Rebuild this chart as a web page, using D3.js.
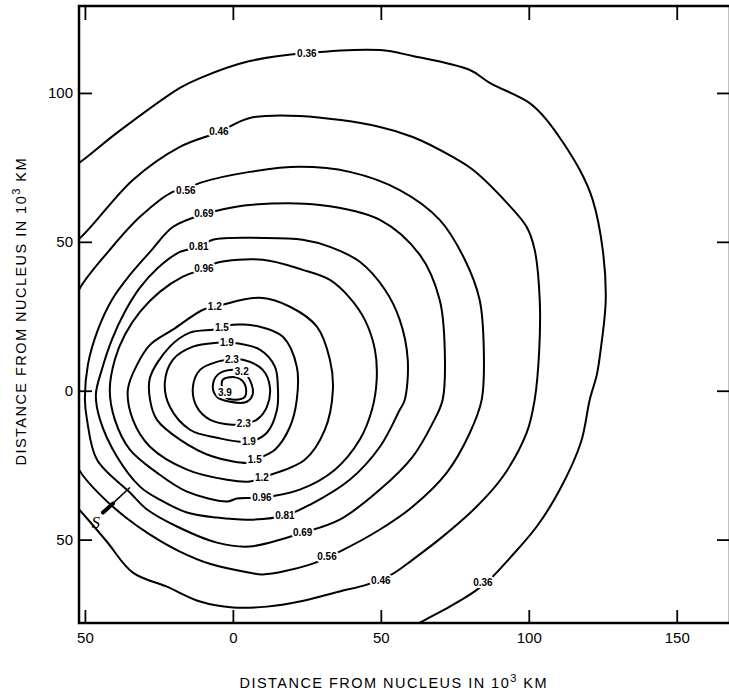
<!DOCTYPE html>
<html>
<head>
<meta charset="utf-8">
<script src="https://cdn.jsdelivr.net/npm/d3@7"></script>
<style>
  body { margin: 0; background: #fff; }
  svg { display: block; }
</style>
</head>
<body>
<div id="chart"></div>
<script>
// contour levels (labels as printed)
const levels = ["0.36", "0.46", "0.56", "0.69", "0.81", "0.96", "1.2", "1.5", "1.9", "2.3", "3.2", "3.9"];

// contour traces, in 10^3 km from nucleus  [x, y]
const c036 = [[-58,73],[-52,76.5],[-39.2,86.6],[-17.9,101.7],[-11.1,105],[5.7,110.7],[25,113.4],[49.7,114.4],[60.8,112.4],[80.1,107.7],[86.8,103.4],[100.3,96.6],[106.1,90.9],[117.2,74.2],[121.6,64.1],[125,47.3],[126,30.5],[124.3,13.8],[123,5.4],[120.6,-3],[117.6,-17.4],[110.5,-33.2],[102.7,-45.6],[93.6,-56.2],[86.8,-63.4],[81.1,-67.8],[73.3,-72.5],[63.2,-77.9],[56,-82]];
const c046 = [[-57,48],[-52,51],[-33.8,70.8],[-17.9,81.9],[-4.7,86.9],[5.7,91.6],[22.6,92.3],[49.7,88.6],[60.8,85.2],[74.3,78.5],[81.1,74.2],[92.6,63.1],[99.3,55],[102,47.3],[103.7,30.5],[103.5,13],[102,-3],[99.3,-14.1],[91.2,-28.9],[82.4,-38.9],[70.9,-49],[60.8,-56.7],[53.7,-61.7],[45.3,-65.1],[36.1,-67.4],[22.6,-70.8],[11.5,-72.5],[0,-72.8],[-11.1,-70.8],[-22.3,-65.8],[-33.8,-61.1],[-42.9,-50.3],[-52,-39.9],[-56,-36]];
const c056 = [[-41.6,47.3],[-31.4,58.4],[-20.3,66.8],[-16,67.6],[-11.1,69.8],[5.7,73.5],[22.6,75.2],[39.5,73.5],[56.4,67.4],[69.9,57.4],[78.4,44],[83.4,30.5],[84.8,13.8],[84.1,-3],[80.1,-14.1],[72.3,-27.5],[60.8,-38.9],[49.7,-46.6],[36.1,-54],[26,-58.4],[10.1,-61.7],[5.7,-61.1],[-7.8,-58.1],[-17.9,-54],[-28,-48.3],[-36.5,-42.3],[-44.9,-34.9],[-52,-26.5],[-56,-15],[-57.5,5],[-55,25],[-52,33.9]];
const c069 = [[-27.4,47.3],[-20.3,55],[-9.5,59.4],[-4.4,60.7],[5.7,62.4],[29.4,62.4],[49.7,57.4],[63.2,45.6],[69.9,30.5],[71.6,13.8],[70.9,-3],[67.6,-10.7],[60.8,-22.1],[49.7,-33.2],[36.1,-43.3],[23.6,-47.7],[5.7,-52.3],[-5.4,-51],[-18.9,-45.6],[-29,-39.9],[-34.8,-34.2],[-45.9,-23.2],[-49.3,-9.7],[-50,-3],[-49,8.7],[-45.6,20.5],[-40.9,30.5],[-34.8,38.9]];
const c081 = [[-17.9,46.6],[-11.5,48.3],[-6.8,50.7],[10.1,51.3],[23.6,50.7],[32.8,48.3],[42.9,43.3],[51.4,33.9],[56.4,23.8],[59.1,10.4],[58.1,-3],[56.4,-6.4],[49.7,-18.8],[39.5,-29.9],[26,-38.3],[17.6,-41.9],[5.7,-43.3],[-5.4,-42.6],[-15.5,-40.9],[-24.7,-36.6],[-31.4,-32.2],[-39.2,-22.1],[-44.9,-9.7],[-46.3,-1.3],[-44.3,7],[-40.9,17.1],[-36.5,26.5],[-31.4,34.6],[-25.3,41.3]];
const c096 = [[-16.9,38.3],[-9.8,40.9],[-5.4,43],[10.1,44],[23.6,40.6],[32.8,37.2],[39.5,31.2],[44.6,23.8],[48,13.8],[48.6,3.7],[47,-6.4],[42.9,-16.4],[34.5,-26.5],[22.6,-33.2],[9.8,-35.9],[1.4,-36.2],[-2,-37.2],[-15.5,-33.9],[-25.7,-27.5],[-34.8,-19.8],[-39.9,-9.7],[-41.6,0.3],[-39.9,10.4],[-36.5,18.8],[-31.4,26.5],[-24.7,33.2]];
const c12 = [[-10.1,27.2],[-6.1,28.2],[-3.4,28.9],[9.1,31.2],[19.3,28.2],[28.4,21.5],[32.8,10.4],[33.8,0.3],[31.1,-13.1],[24.3,-23.2],[9.8,-29.2],[5.7,-30.5],[-2,-29.9],[-15.5,-26.5],[-28,-18.8],[-33.8,-9.7],[-35.5,0.3],[-32.4,8.7],[-28,15.4],[-20.3,20.5]];
const c15 = [[-6.8,20.5],[-3.7,21.1],[-1,22.1],[9.1,21.5],[16.9,18.1],[21.6,8.1],[21.6,-3],[19.3,-12.1],[14.2,-19.8],[7.4,-23.2],[5.7,-24.2],[-6.8,-22.1],[-17.9,-16.4],[-25.7,-9.7],[-28,-3],[-28,4.4],[-21.3,14.8],[-14.5,19.5]];
const c19 = [[-5.4,16.1],[0,16.1],[9.1,13.8],[14.2,8.1],[15.2,1.3],[14.9,-6.4],[11.5,-14.1],[5.4,-17.1],[-5.4,-15.8],[-14.5,-13.1],[-21.3,-5.4],[-23,2.7],[-20.3,10.4],[-13.5,14.8]];
const c23 = [[-5.4,9.7],[-0.3,10.4],[3.4,10.4],[10.1,7],[12.5,1.3],[11.5,-5.4],[8.1,-9.7],[3.7,-11.1],[-0.3,-11.4],[-7.8,-9.7],[-12.2,-5.4],[-13.5,1.3],[-11.1,7]];
const c32 = [[-1,7],[3,6.4],[5.1,4.7],[6.8,-0.7],[4.7,-3.7],[-1,-3.7],[-5.4,-2],[-6.8,1.3],[-5.1,5.4]];
const c39 = [[-3.4,3.7],[1.4,4.4],[4.1,2],[4.1,-2],[0.7,-3],[-2.7,-2],[-3.7,1]];

const traces = [c036, c046, c056, c069, c081, c096, c12, c15, c19, c23, c32, c39];
const openTraces = ["0.36", "0.46"];

// where the level numbers are written on the lines
const labelText = ["0.36","0.46","0.56","0.69","0.81","0.96","1.2","1.5","1.9","2.3","3.2","3.9",
                   "2.3","1.9","1.5","1.2","0.96","0.81","0.69","0.56","0.46","0.36"];
const labelX = [25,-4.7,-15.9,-9.8,-11.5,-9.8,-6.1,-3.7,-2,-0.3,3,-2.7,
                3.7,5.4,7.4,9.8,9.8,17.6,23.6,31.8,50,84.5];
const labelY = [113.4,86.9,67.4,59.4,48.3,40.9,28.2,21.1,16.1,10.4,6.4,-0.7,
                -11.1,-17.1,-23.2,-29.2,-35.9,-41.9,-47.7,-55.7,-63.8,-64.4];

// sun direction marker
const sunLine = [[-43.9,-40.9],[-34.8,-32.5]];
const sunBold = [[-43.9,-40.9],[-40.5,-37.9]];
const sunLabel = {text: "S", x: -46.3, y: -46};

const xTicks = [-50, 0, 50, 100, 150];
const yTicks = [-50, 0, 50, 100];
const xTitle = "DISTANCE FROM NUCLEUS IN 10";
const yTitle = "DISTANCE FROM NUCLEUS IN 10";

const W = 729, H = 696;
const svg = d3.select("#chart").append("svg")
    .attr("width", W).attr("height", H);

const x = d3.scaleLinear().domain([-52, 168]).range([79, 730]);
const y = d3.scaleLinear().domain([-78, 129.2]).range([623, 6]);

const font = "'Liberation Sans', Arial, sans-serif";

svg.append("clipPath").attr("id", "plot")
    .append("rect")
    .attr("x", x(-52)).attr("y", y(129.2))
    .attr("width", x(168) - x(-52)).attr("height", y(-78) - y(129.2));

// contours
const line = d3.line().x(d => x(d[0])).y(d => y(d[1]));
const g = svg.append("g").attr("clip-path", "url(#plot)");
traces.forEach((pts, i) => {
    let open = openTraces.includes(levels[i]);
    g.append("path")
        .datum(pts)
        .attr("d", line.curve(open ? d3.curveCatmullRom : d3.curveCatmullRomClosed))
        .attr("fill", "none")
        .attr("stroke", "#000")
        .attr("stroke-width", 2)
        .attr("stroke-linejoin", "round");
});

// level labels, with white halo so they cut the line
labelText.forEach((t, i) => {
    g.append("text")
        .attr("x", x(labelX[i]))
        .attr("y", y(labelY[i]))
        .attr("dy", "0.35em")
        .attr("text-anchor", "middle")
        .attr("font-family", font)
        .attr("font-weight", "bold")
        .attr("font-size", 10)
        .attr("stroke", "#fff")
        .attr("stroke-width", 4)
        .attr("paint-order", "stroke")
        .attr("fill", "#000")
        .text(t);
});

// S marker
g.append("path").datum(sunLine).attr("d", line.curve(d3.curveLinear))
    .attr("stroke", "#000").attr("stroke-width", 1.6).attr("fill", "none");
g.append("path").datum(sunBold).attr("d", line.curve(d3.curveLinear))
    .attr("stroke", "#000").attr("stroke-width", 4).attr("stroke-linecap", "round").attr("fill", "none");
svg.append("text")
    .attr("x", x(sunLabel.x)).attr("y", y(sunLabel.y))
    .attr("text-anchor", "middle")
    .attr("font-family", "'Liberation Serif', serif")
    .attr("font-style", "italic")
    .attr("font-size", 17)
    .text(sunLabel.text);

// axes
function styleAxis(sel) {
    sel.select(".domain").remove();
    sel.selectAll(".tick line").attr("stroke", "#000").attr("stroke-width", 1.8);
    sel.selectAll(".tick text").attr("font-family", font).attr("font-size", 15).attr("fill", "#000");
}
const fmt = d => Math.abs(d);

svg.append("g").attr("transform", `translate(0,${y(-78)})`)
    .call(d3.axisBottom(x).tickValues(xTicks).tickFormat(fmt).tickSizeInner(-13).tickSizeOuter(0).tickPadding(9))
    .call(styleAxis);
svg.append("g").attr("transform", `translate(0,${y(129.2)})`)
    .call(d3.axisTop(x).tickValues(xTicks).tickFormat("").tickSizeInner(-14).tickSizeOuter(0))
    .call(styleAxis);
svg.append("g").attr("transform", `translate(${x(-52)},0)`)
    .call(d3.axisLeft(y).tickValues(yTicks).tickFormat(fmt).tickSizeInner(-13).tickSizeOuter(0).tickPadding(6))
    .call(styleAxis);
svg.append("g").attr("transform", `translate(${x(168)},0)`)
    .call(d3.axisRight(y).tickValues(yTicks).tickFormat("").tickSizeInner(-13).tickSizeOuter(0))
    .call(styleAxis);

// frame
svg.append("rect")
    .attr("x", x(-52)).attr("y", y(129.2))
    .attr("width", x(168) - x(-52)).attr("height", y(-78) - y(129.2))
    .attr("fill", "none").attr("stroke", "#000").attr("stroke-width", 2.5);

// titles
function title(sel, base) {
    sel.attr("font-family", font).attr("font-size", 14.5).attr("fill", "#000")
        .attr("textLength", 307).attr("lengthAdjust", "spacing");
    sel.append("tspan").text(base);
    sel.append("tspan").attr("font-size", 11).attr("dy", -6).text("3");
    sel.append("tspan").attr("dy", 6).text(" KM");
}
svg.append("text")
    .attr("x", 393).attr("y", 688)
    .attr("text-anchor", "middle")
    .call(title, xTitle);
svg.append("text")
    .attr("transform", "translate(26,312) rotate(-90)")
    .attr("text-anchor", "middle")
    .call(title, yTitle);
</script>
</body>
</html>
